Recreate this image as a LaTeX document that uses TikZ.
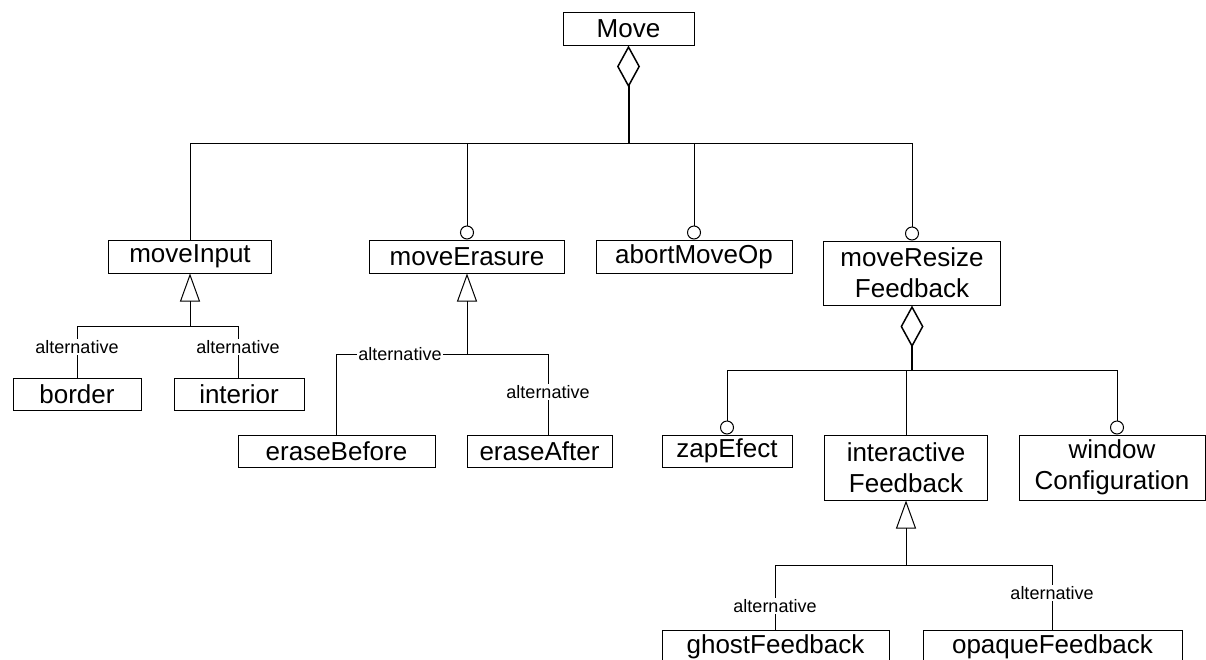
\documentclass[tikz,border=0pt]{standalone}
\usepackage{fontspec}
\setmainfont{Liberation Sans}
\usetikzlibrary{arrows.meta}
\begin{document}
\begin{tikzpicture}[x=1pt,y=-1pt,
  box/.style={draw, line width=1pt, inner sep=0pt, align=center,
    font=\fontsize{26}{31}\selectfont, minimum height=33pt},
  tall/.style={box, minimum height=65pt},
  wire/.style={line width=1pt},
  agg/.style={line width=2pt, {Diamond[open, length=42pt, width=23pt, line width=1.5pt]}-},
  opt/.style={wire, -{Circle[open, length=14pt, line width=1pt]}},
  gen/.style={wire, -{Triangle[open, length=28pt, width=20pt, line width=1pt]}},
  alt/.style={font=\fontsize{18}{20}\selectfont, fill=white, inner sep=1.5pt}
]
\clip (0,0) rectangle (1206,659);
\fill[white] (0,0) rectangle (1206,659);

% boxes
\node[box, minimum width=131pt] (move) at (628.5,28.5) {Move};
\node[box, minimum width=163pt] (moveInput) at (190,256.5) {moveInput};
\node[box, minimum width=195pt] (moveErasure) at (467,256.5) {moveErasure};
\node[box, minimum width=196pt] (abortMoveOp) at (694,256.5) {abortMoveOp};
\node[tall, minimum width=177pt, minimum height=64pt] (moveResize) at (912,273) {moveResize\\Feedback};
\node[box, minimum width=128pt, minimum height=32pt] (border) at (77,394) {border};
\node[box, minimum width=130pt, minimum height=32pt] (interior) at (239,394) {interior};
\node[box, minimum width=197pt, minimum height=32pt] (eraseBefore) at (336.5,451) {eraseBefore};
\node[box, minimum width=145pt, minimum height=32pt] (eraseAfter) at (539.5,451) {eraseAfter};
\node[box, minimum width=130pt, minimum height=32pt] (zapEfect) at (727,451) {zapEfect};
\node[tall, minimum width=163pt] (interactive) at (906,467.5) {interactive\\Feedback};
\node[tall, minimum width=186pt] (window) at (1112,467.5) {window\\Configuration};
\node[box, minimum width=227pt, minimum height=34pt] (ghost) at (775.5,647) {ghostFeedback};
\node[box, minimum width=259pt, minimum height=34pt] (opaque) at (1052.5,647) {opaqueFeedback};

% junction points on the bars
\coordinate (topbar) at (628.5,143);
\coordinate (inbar) at (190,326);
\coordinate (erbar) at (467,354);
\coordinate (erL) at (336,354);
\coordinate (erR) at (548,354);
\coordinate (fbbar) at (912,370);
\coordinate (fbL) at (727,370);
\coordinate (fbR) at (1117,370);
\coordinate (ifbar) at (906,565);

% Move aggregation
\draw[agg] (move.south) -- (topbar);
\draw[wire] (moveInput.north |- topbar) -- (moveResize.north |- topbar);
\draw[wire] (moveInput.north |- topbar) -- (moveInput.north);
\draw[opt] (moveErasure.north |- topbar) -- (moveErasure.north);
\draw[opt] (abortMoveOp.north |- topbar) -- (abortMoveOp.north);
\draw[opt] (moveResize.north |- topbar) -- (moveResize.north);

% moveInput alternatives
\draw[gen] (inbar) -- (moveInput.south);
\draw[wire] (border.north |- inbar) -- (interior.north |- inbar);
\draw[wire] (border.north |- inbar) -- (border.north);
\draw[wire] ([xshift=-1pt]interior.north |- inbar) -- ([xshift=-1pt]interior.north);
\node[alt] (altBorder) at (77,347) {alternative};
\node[alt] (altInterior) at (238,347) {alternative};

% moveErasure alternatives
\draw[gen] (erbar) -- (moveErasure.south);
\draw[wire] (erL) -- (erR);
\draw[wire] (erL) -- (erL |- eraseBefore.north);
\draw[wire] (erR) -- (erR |- eraseAfter.north);
\node[alt] (altBefore) at (400,354) {alternative};
\node[alt] (altAfter) at (548,392) {alternative};

% moveResizeFeedback aggregation
\draw[agg] (moveResize.south) -- (fbbar);
\draw[wire] (fbL) -- (fbR);
\draw[opt] (fbL) -- (zapEfect.north);
\draw[wire] (interactive.north |- fbbar) -- (interactive.north);
\draw[opt] (fbR) -- (fbR |- window.north);

% interactiveFeedback alternatives
\draw[gen] (ifbar) -- (interactive.south);
\draw[wire] (ghost.north |- ifbar) -- (opaque.north |- ifbar);
\draw[wire] (ghost.north |- ifbar) -- (ghost.north);
\draw[wire] (opaque.north |- ifbar) -- (opaque.north);
\node[alt] (altGhost) at (775,606) {alternative};
\node[alt] (altOpaque) at (1052,593) {alternative};
\end{tikzpicture}
\end{document}
